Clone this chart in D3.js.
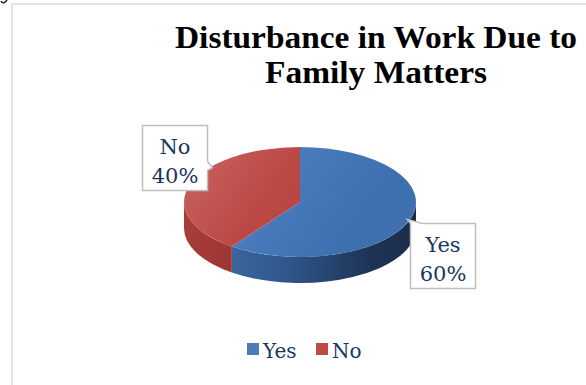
<!DOCTYPE html>
<html>
<head>
<meta charset="utf-8">
<script src="https://cdn.jsdelivr.net/npm/d3@7"></script>
<style>
  html, body { margin: 0; padding: 0; background: #fff; }
  svg { display: block; }
</style>
</head>
<body>
<svg id="chart" width="586" height="385"></svg>
<script>
// Survey answers
const categories = ["Yes", "No"];
const values = [60, 40];
const labelText = ["60%", "40%"];
const title = ["Disturbance in Work Due to", "Family Matters"];

const svg = d3.select("#chart");
const W = 586, H = 385;
const serif = "'DejaVu Serif', 'Liberation Serif', serif";
const titleFont = "'Liberation Serif', 'Times New Roman', serif";

// frame
svg.append("path")
  .attr("d", `M12,${H + 5} L12,4 L${W + 5},4`)
  .attr("fill", "none").attr("stroke", "#dbe5f1").attr("stroke-width", 2);

// small stroke left over from the line above the frame
svg.append("path")
  .attr("d", "M1,1 Q3,5 7,0")
  .attr("fill", "none").attr("stroke", "#222").attr("stroke-width", 1.6);

// title
const t = svg.append("text").attr("text-anchor", "middle")
  .attr("font-family", titleFont).attr("font-weight", "bold").attr("font-size", 32)
  .attr("fill", "#000");
t.append("tspan").attr("x", 376).attr("y", 48)
  .attr("textLength", 402).attr("lengthAdjust", "spacingAndGlyphs").text(title[0]);
t.append("tspan").attr("x", 376).attr("y", 83)
  .attr("textLength", 222).attr("lengthAdjust", "spacingAndGlyphs").text(title[1]);

// 3D pie geometry
const cx = 300, cy = 202, rx = 116, ry = 55, depth = 26;
const pie = d3.pie().sort(null).value(d => d)(values);
const pt = (a, z = 0) => [cx + rx * Math.sin(a), cy - ry * Math.cos(a) + z];

const defs = svg.append("defs");
function lin(id, x1, y1, x2, y2, stops) {
  const g = defs.append("linearGradient").attr("id", id)
    .attr("gradientUnits", "userSpaceOnUse")
    .attr("x1", x1).attr("y1", y1).attr("x2", x2).attr("y2", y2);
  stops.forEach(([o, c]) => g.append("stop").attr("offset", o).attr("stop-color", c));
}
lin("topYes", cx - rx, cy - ry, cx + rx * 0.3, cy + ry, [[0, "#6592cd"], [0.5, "#4a7cbd"], [1, "#3e70b0"]]);
lin("topNo", cx - rx, cy - ry, cx + rx * 0.3, cy + ry, [[0, "#c86663"], [0.5, "#bd4946"], [1, "#b03f3c"]]);
lin("sideYes", cx - rx, 0, cx + rx, 0, [[0, "#4373ae"], [0.45, "#2f568a"], [0.8, "#1e3456"], [1, "#1b2d4a"]]);
lin("sideNo", cx - rx, 0, cx + rx, 0, [[0, "#a83c39"], [1, "#6e2220"]]);

const topFill = ["url(#topYes)", "url(#topNo)"];
const sideFill = ["url(#sideYes)", "url(#sideNo)"];

// visible side walls (front half of the ellipse)
pie.forEach((s, i) => {
  const a0 = Math.max(s.startAngle, Math.PI / 2);
  const a1 = Math.min(s.endAngle, 3 * Math.PI / 2);
  if (a1 <= a0) return;
  const p0 = pt(a0), p1 = pt(a1), q1 = pt(a1, depth), q0 = pt(a0, depth);
  const large = (a1 - a0) > Math.PI ? 1 : 0;
  svg.append("path")
    .attr("d", `M${p0} A${rx},${ry} 0 ${large} 1 ${p1} L${q1} A${rx},${ry} 0 ${large} 0 ${q0} Z`)
    .attr("fill", sideFill[i]);
});

// top faces
pie.forEach((s, i) => {
  const p0 = pt(s.startAngle), p1 = pt(s.endAngle);
  const large = (s.endAngle - s.startAngle) > Math.PI ? 1 : 0;
  svg.append("path")
    .attr("d", `M${cx},${cy} L${p0} A${rx},${ry} 0 ${large} 1 ${p1} Z`)
    .attr("fill", topFill[i]);
});

// data callouts
const labelColor = "#17375e";
function callout(x, y, w, h, tail, lines) {
  svg.append("path").attr("d", tail)
    .attr("fill", "#fff").attr("stroke", "#bfbfbf").attr("stroke-width", 1.5)
    .attr("stroke-linejoin", "miter");
  const tx = svg.append("text").attr("text-anchor", "middle")
    .attr("font-family", serif).attr("font-size", 21).attr("fill", labelColor);
  lines.forEach((l, k) => tx.append("tspan").attr("x", x + w / 2).attr("y", y + 28 + k * 29).text(l));
}
// "No" box with a notch on its right edge pointing at the slice
{
  const x = 142.5, y = 125.5, w = 65, h = 65;
  const tail = `M${x},${y} H${x + w} V${y + 36} L${x + w + 5},${y + 42} L${x + w},${y + 45} V${y + h} H${x} Z`;
  callout(x, y, w, h, tail, [categories[1], labelText[1]]);
}
// "Yes" box with a leader from its upper-left corner
{
  const x = 410.5, y = 223.5, w = 65, h = 65;
  const tail = `M${x},${y} L${pt(Math.PI * 0.6)[0] - 3},${y - 4} L${x + 12},${y} H${x + w} V${y + h} H${x} Z`;
  callout(x, y, w, h, tail, [categories[0], labelText[0]]);
}

// legend
const legendColor = ["#4a7ebb", "#be4b48"];
const lx = [247, 316];
categories.forEach((c, i) => {
  svg.append("rect").attr("x", lx[i]).attr("y", 343).attr("width", 12).attr("height", 12)
    .attr("fill", legendColor[i]);
  svg.append("text").attr("x", lx[i] + 16).attr("y", 358)
    .attr("font-family", serif).attr("font-size", 20).attr("fill", labelColor).text(c);
});
</script>
</body>
</html>
